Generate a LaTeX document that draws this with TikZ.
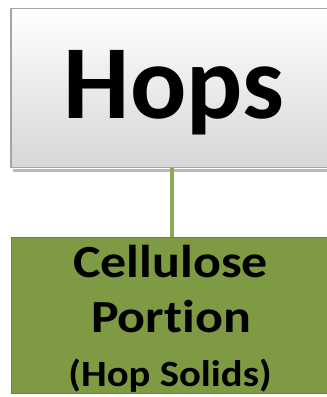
\documentclass[tikz,border=0pt]{standalone}
\usepackage{fontspec}
\setmainfont[Ligatures={NoCommon}]{Carlito}
\usetikzlibrary{positioning}
\definecolor{olive}{RGB}{126,154,66}
\definecolor{oliveline}{RGB}{140,170,85}
\definecolor{boxgray}{RGB}{165,165,165}
\begin{document}
\begin{tikzpicture}[x=1pt,y=1pt,
  topbox/.style={draw=boxgray, line width=1.2pt, top color=white, bottom color=black!16,
    minimum width=322pt, minimum height=159pt, inner sep=0pt},
  greenbox/.style={draw=olive!85!black, line width=1pt, fill=olive,
    minimum width=322pt, minimum height=156pt, inner sep=0pt},
  bigtext/.style={font=\bfseries\fontsize{105}{110}\selectfont, anchor=base, inner sep=0pt},
  midtext/.style={font=\bfseries\fontsize{46}{55}\selectfont, anchor=base, inner sep=0pt},
  smalltext/.style={font=\bfseries\fontsize{37}{44}\selectfont, anchor=base, inner sep=0pt},
  conn/.style={draw=oliveline, line width=4pt}]
\useasboundingbox (0,0) rectangle (327,-397);
\fill[black!28] (13,-169) rectangle (335,-171.5);
\node[topbox] (hops) at (172,-88) {};
\node[bigtext] (hopstext) at (174,-118) {Hops};
\node[greenbox] (cell) at (172,-315) {};
\node[midtext] (l1) at (170.5,-277) {\scalebox{1.13}[1]{Cellulose}};
\node[midtext] (l2) at (171,-332) {\scalebox{1.13}[1]{Portion}};
\node[smalltext] (l3) at (170,-386.5) {\scalebox{1.1}[1]{(Hop Solids)}};
\draw[conn] (hops.south) -- (cell.north);
\end{tikzpicture}
\end{document}
